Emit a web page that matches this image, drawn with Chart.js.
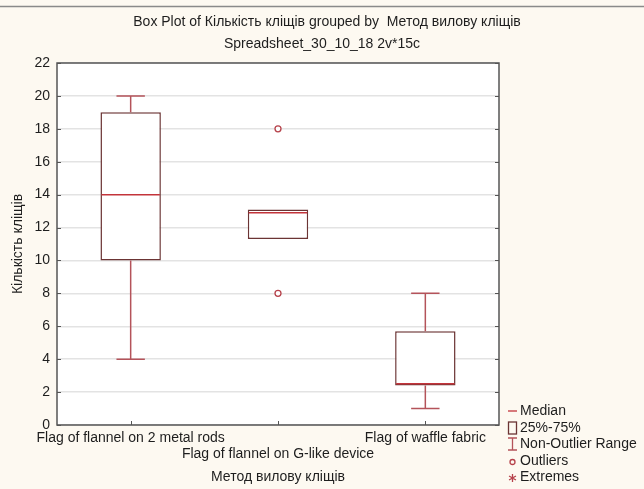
<!DOCTYPE html>
<html>
<head>
<meta charset="utf-8">
<script src="https://cdn.jsdelivr.net/npm/chart.js@4/dist/chart.umd.min.js"></script>
<style>
  html, body { margin: 0; padding: 0; background: #fdf9f1; }
  #wrap { width: 644px; height: 489px; }
</style>
</head>
<body>
<div id="wrap"><canvas id="c" width="644" height="489"></canvas></div>
<script>
// Groups and box plot statistics for "Кількість кліщів"
const categories = [
  'Flag of flannel on 2 metal rods',
  'Flag of flannel on G-like device',
  'Flag of waffle fabric'
];
const q1Values      = [10, 11.3, 2.4];
const q3Values      = [19, 13.1, 5.7];
const medianValues  = [14, 12.9, 2.5];
const whiskerLow    = [4, 11.3, 1];
const whiskerHigh   = [20, 13.1, 8];
const outlierPoints = [
  { x: categories[1], y: 18 },
  { x: categories[1], y: 8 }
];
const yTicks = [0, 2, 4, 6, 8, 10, 12, 14, 16, 18, 20, 22];
const titleLines = [
  'Box Plot of Кількість кліщів grouped by  Метод вилову кліщів',
  'Spreadsheet_30_10_18 2v*15c'
];
const keyLabels = ['Median', '25%-75%', 'Non-Outlier Range', 'Outliers', 'Extremes'];

const FONT = 'Liberation Sans, Arial, sans-serif';
const FONT_SIZE = 14;
const BOX_COLOR = '#6b3434';
const MEDIAN_COLOR = '#c3343b';
const WHISKER_COLOR = '#b4535a';
const OUTLIER_COLOR = '#b6424b';
const FRAME_COLOR = '#555555';
const TEXT_COLOR = '#1e1e1e';

// Background, plot area fill, and the thin rule across the top
const backgroundPlugin = {
  id: 'background',
  beforeDraw(chart) {
    const { ctx, chartArea: a, width } = chart;
    ctx.save();
    ctx.fillStyle = '#fdf9f1';
    ctx.fillRect(0, 0, width, chart.height);
    ctx.strokeStyle = '#8a8a8a';
    ctx.lineWidth = 1.5;
    ctx.beginPath();
    ctx.moveTo(0, 6.5);
    ctx.lineTo(width, 6.5);
    ctx.stroke();
    ctx.fillStyle = '#ffffff';
    ctx.fillRect(a.left, a.top, a.right - a.left, a.bottom - a.top);
    ctx.restore();
  }
};

// Medians, whiskers with caps, frame, inner tick marks, title and the key
const boxPlotPlugin = {
  id: 'boxplot',
  afterDatasetsDraw(chart) {
    const { ctx } = chart;
    const xs = chart.scales.x, ys = chart.scales.y;
    const bars = chart.getDatasetMeta(0).data;
    ctx.save();
    categories.forEach((c, i) => {
      const cx = xs.getPixelForValue(i);
      const half = bars[i].width / 2;
      const capHalf = half * 0.47;
      ctx.lineWidth = 1.5;
      ctx.strokeStyle = WHISKER_COLOR;
      const segs = [[whiskerHigh[i], q3Values[i]], [whiskerLow[i], q1Values[i]]];
      segs.forEach(([w, edge]) => {
        if (w === edge) return;
        const yw = ys.getPixelForValue(w), ye = ys.getPixelForValue(edge);
        ctx.beginPath();
        ctx.moveTo(cx, ye);
        ctx.lineTo(cx, yw);
        ctx.moveTo(cx - capHalf, yw);
        ctx.lineTo(cx + capHalf, yw);
        ctx.stroke();
      });
      ctx.strokeStyle = MEDIAN_COLOR;
      const ym = ys.getPixelForValue(medianValues[i]);
      ctx.beginPath();
      ctx.moveTo(cx - half + 1, ym);
      ctx.lineTo(cx + half - 1, ym);
      ctx.stroke();
    });
    ctx.restore();
  },
  afterDraw(chart) {
    const { ctx, chartArea: a } = chart;
    const xs = chart.scales.x, ys = chart.scales.y;
    ctx.save();
    ctx.strokeStyle = FRAME_COLOR;
    ctx.lineWidth = 1.5;
    ctx.strokeRect(a.left, a.top, a.right - a.left, a.bottom - a.top);
    ctx.lineWidth = 1;
    ctx.beginPath();
    yTicks.forEach(v => {
      const y = Math.round(ys.getPixelForValue(v)) + 0.5;
      ctx.moveTo(a.left, y); ctx.lineTo(a.left + 4, y);
      ctx.moveTo(a.right, y); ctx.lineTo(a.right - 4, y);
    });
    categories.forEach((c, i) => {
      const x = Math.round(xs.getPixelForValue(i)) + 0.5;
      ctx.moveTo(x, a.bottom); ctx.lineTo(x, a.bottom - 4);
    });
    ctx.stroke();

    // title
    ctx.font = FONT_SIZE + 'px ' + FONT;
    ctx.fillStyle = TEXT_COLOR;
    ctx.textBaseline = 'middle';
    ctx.textAlign = 'center';
    ctx.fillText(titleLines[0], 327, 22);
    ctx.fillText(titleLines[1], 322, 44);

    // key
    const lx = 508, tx = 520;
    const rows = [411, 428, 444, 461, 477];
    ctx.textAlign = 'left';
    keyLabels.forEach((t, k) => ctx.fillText(t, tx, rows[k]));
    ctx.lineWidth = 1.3;
    ctx.strokeStyle = MEDIAN_COLOR;
    ctx.beginPath(); ctx.moveTo(lx, rows[0]); ctx.lineTo(lx + 9, rows[0]); ctx.stroke();
    ctx.strokeStyle = BOX_COLOR;
    ctx.strokeRect(lx + 0.5, rows[1] - 6, 8, 12);
    ctx.strokeStyle = WHISKER_COLOR;
    ctx.beginPath();
    ctx.moveTo(lx + 4.5, rows[2] - 6); ctx.lineTo(lx + 4.5, rows[2] + 6);
    ctx.moveTo(lx, rows[2] - 6); ctx.lineTo(lx + 9, rows[2] - 6);
    ctx.moveTo(lx, rows[2] + 6); ctx.lineTo(lx + 9, rows[2] + 6);
    ctx.stroke();
    ctx.strokeStyle = OUTLIER_COLOR;
    ctx.beginPath(); ctx.arc(lx + 4.5, rows[3] + 1, 2.5, 0, Math.PI * 2); ctx.stroke();
    ctx.beginPath();
    const ex = lx + 4.5, ey = rows[4] + 1;
    for (let k = 0; k < 3; k++) {
      const ang = Math.PI / 2 + k * Math.PI / 3;
      ctx.moveTo(ex - 4 * Math.cos(ang), ey - 4 * Math.sin(ang));
      ctx.lineTo(ex + 4 * Math.cos(ang), ey + 4 * Math.sin(ang));
    }
    ctx.stroke();
    ctx.restore();
  }
};

new Chart(document.getElementById('c'), {
  type: 'bar',
  data: {
    labels: categories,
    datasets: [
      {
        label: '25%-75%',
        data: q1Values.map((v, i) => [v, q3Values[i]]),
        backgroundColor: '#ffffff',
        borderColor: BOX_COLOR,
        borderWidth: 1.5,
        borderSkipped: false,
        barPercentage: 0.41,
        categoryPercentage: 1
      },
      {
        type: 'line',
        label: 'Outliers',
        data: outlierPoints,
        showLine: false,
        pointStyle: 'circle',
        pointRadius: 3,
        pointBorderWidth: 1.3,
        pointBorderColor: OUTLIER_COLOR,
        pointBackgroundColor: '#ffffff'
      }
    ]
  },
  options: {
    responsive: false,
    animation: false,
    layout: { padding: { left: 0, right: 145, top: 63, bottom: 0 } },
    plugins: {
      legend: { display: false },
      tooltip: { enabled: false },
      title: { display: false }
    },
    scales: {
      x: {
        offset: true,
        grid: { display: false, drawTicks: false },
        border: { display: false },
        ticks: {
          color: TEXT_COLOR,
          font: { family: FONT, size: FONT_SIZE, lineHeight: 16 / FONT_SIZE },
          padding: 5,
          maxRotation: 0,
          minRotation: 0,
          autoSkip: false,
          callback: (v, i) => (i === 1 ? ['', categories[i]] : categories[i])
        },
        title: {
          display: true,
          text: 'Метод вилову кліщів',
          color: TEXT_COLOR,
          font: { family: FONT, size: FONT_SIZE },
          padding: { top: 0, bottom: 3 }
        },
        afterFit(s) { s.height = 64; }
      },
      y: {
        min: 0,
        max: 22,
        grid: { color: '#e3e3e3', lineWidth: 1.5, drawTicks: false },
        border: { display: false },
        ticks: {
          stepSize: 2,
          color: TEXT_COLOR,
          font: { family: FONT, size: FONT_SIZE },
          padding: 7
        },
        title: {
          display: true,
          text: 'Кількість кліщів',
          color: TEXT_COLOR,
          font: { family: FONT, size: FONT_SIZE },
          padding: { top: 10, bottom: 0 }
        },
        afterFit(s) { s.width = 57; }
      }
    }
  },
  plugins: [backgroundPlugin, boxPlotPlugin]
});
</script>
</body>
</html>
